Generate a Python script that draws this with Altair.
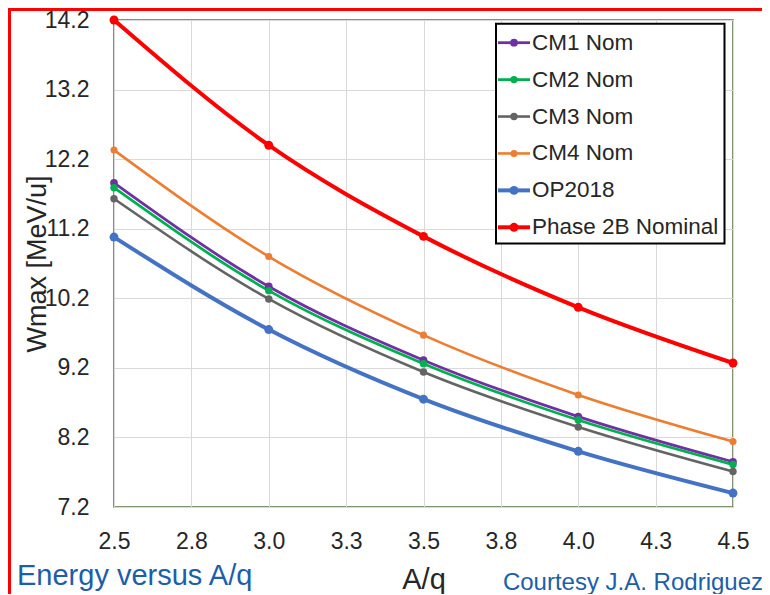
import altair as alt
import pandas as pd

# ---- data ----
aq = [2.5, 3.0, 3.5, 4.0, 4.5]
series_names = ["CM1 Nom", "CM2 Nom", "CM3 Nom", "CM4 Nom", "OP2018", "Phase 2B Nominal"]
cm1 = [11.86, 10.37, 9.31, 8.50, 7.85]
cm2 = [11.79, 10.31, 9.26, 8.45, 7.81]
cm3 = [11.63, 10.19, 9.14, 8.35, 7.71]
cm4 = [12.33, 10.80, 9.67, 8.81, 8.14]
op2018 = [11.08, 9.75, 8.75, 8.00, 7.40]
phase2b = [14.20, 12.40, 11.09, 10.07, 9.27]
series_values = [cm1, cm2, cm3, cm4, op2018, phase2b]

x_ticks = [2.5, 2.75, 3.0, 3.25, 3.5, 3.75, 4.0, 4.25, 4.5]
y_ticks = [7.2, 8.2, 9.2, 10.2, 11.2, 12.2, 13.2, 14.2]

# ---- styles ----
series_colors = ["#7030a0", "#00b050", "#646464", "#ed7d31", "#4472c4", "#ff0000"]
line_widths = [2.8, 2.8, 2.6, 2.6, 4.0, 4.0]
point_sizes = [60, 55, 55, 50, 80, 80]

rows = []
for name, vals in zip(series_names, series_values):
    for a, v in zip(aq, vals):
        rows.append({"series": name, "aq": a, "wmax": v})
df = pd.DataFrame(rows)
legend_df = pd.DataFrame({"series": series_names})

FONT = "Liberation Sans"
TXT = "#262626"

color = alt.Color("series:N", scale=alt.Scale(domain=series_names, range=series_colors), legend=None)
stroke_w = alt.StrokeWidth(
    "style_key:N", scale=alt.Scale(type="ordinal", domain=series_names, range=line_widths), legend=None
)
dot_size = alt.Size(
    "style_key:N", scale=alt.Scale(type="ordinal", domain=series_names, range=point_sizes), legend=None
)

x = alt.X(
    "aq:Q",
    scale=alt.Scale(domain=[2.5, 4.5], nice=False, zero=False),
    axis=alt.Axis(
        values=x_ticks, format=".1f", title="A/q", grid=True, gridColor="#d9d9d9",
        ticks=False, tickSize=0, domain=False, labelFlush=False, labelOverlap=False,
        labelPadding=41, labelBaseline="alphabetic", labelFont=FONT, labelFontSize=23,
        labelColor=TXT, titleFont=FONT, titleFontSize=29, titleFontWeight="normal",
        titleColor=TXT, titleY=81, titleBaseline="alphabetic",
    ),
)
y = alt.Y(
    "wmax:Q",
    scale=alt.Scale(domain=[7.2, 14.2], nice=False, zero=False),
    axis=alt.Axis(
        values=y_ticks, format=".1f", title="Wmax [MeV/u]", grid=True, gridColor="#d9d9d9",
        ticks=False, tickSize=0, domain=False, labelFlush=False, labelOverlap=False,
        labelPadding=25, labelFont=FONT, labelFontSize=23, labelColor=TXT,
        titleFont=FONT, titleFontSize=27, titleFontWeight="normal", titleColor=TXT,
        titleAngle=270, titleX=-77, titleY=243.5, titleAlign="center", titleBaseline="middle",
    ),
)

base = alt.Chart(df).transform_calculate(style_key="datum.series").encode(x=x, y=y, color=color)
lines = base.mark_line(interpolate="monotone").encode(strokeWidth=stroke_w)
points = base.mark_circle(opacity=1).encode(size=dot_size)
main = alt.layer(lines, points)

# ---- legend built from marks ----
leg_y = alt.Y(
    "series:N",
    scale=alt.Scale(type="point", domain=series_names, range=[22.7, 207.3], padding=0),
    axis=None,
)
leg_base = alt.Chart(legend_df).transform_calculate(style_key="datum.series").encode(y=leg_y, color=color)
leg_lines = leg_base.mark_rule().encode(x=alt.value(384), x2=alt.value(416), strokeWidth=stroke_w)
leg_dots = leg_base.mark_circle(opacity=1).encode(x=alt.value(400), size=dot_size)
leg_text = leg_base.mark_text(
    align="left", baseline="middle", font=FONT, fontSize=22.5, color=TXT
).encode(x=alt.value(418), text="series:N", color=alt.value(TXT))
legend = alt.layer(leg_lines, leg_dots, leg_text)

deco = alt.Data(values=[{"k": 0}])
leg_box = alt.Chart(deco).mark_rect(fill="white", stroke="black", strokeWidth=2).encode(
    x=alt.value(382), x2=alt.value(610.5), y=alt.value(3.7), y2=alt.value(223.5)
)
red_top = alt.Chart(deco).mark_rule(color="#ff0000", strokeWidth=3).encode(
    x=alt.value(-104.5), x2=alt.value(680), y=alt.value(-10.5)
)
red_left = alt.Chart(deco).mark_rule(color="#ff0000", strokeWidth=3).encode(
    x=alt.value(-104.5), y=alt.value(-12), y2=alt.value(620)
)
energy = alt.Chart(deco).mark_text(
    text="Energy versus A/q", align="left", baseline="alphabetic",
    font=FONT, fontSize=29, color="#1c5ea8",
).encode(x=alt.value(-97), y=alt.value(565))
courtesy = alt.Chart(deco).mark_text(
    text="Courtesy J.A. Rodriguez", align="right", baseline="alphabetic",
    font=FONT, fontSize=24, color="#1c5ea8",
).encode(x=alt.value(649), y=alt.value(570))

chart = alt.layer(main, leg_box, legend, red_top, red_left, energy, courtesy).resolve_scale(
    y="independent"
).properties(
    width=619, height=487, autosize="none",
    padding={"left": 106, "top": 12, "right": 29, "bottom": 87},
).configure_view(
    stroke="#5a7144", strokeWidth=1.5
)

chart.save("out.html", embed_options={"renderer": "svg", "actions": False})
